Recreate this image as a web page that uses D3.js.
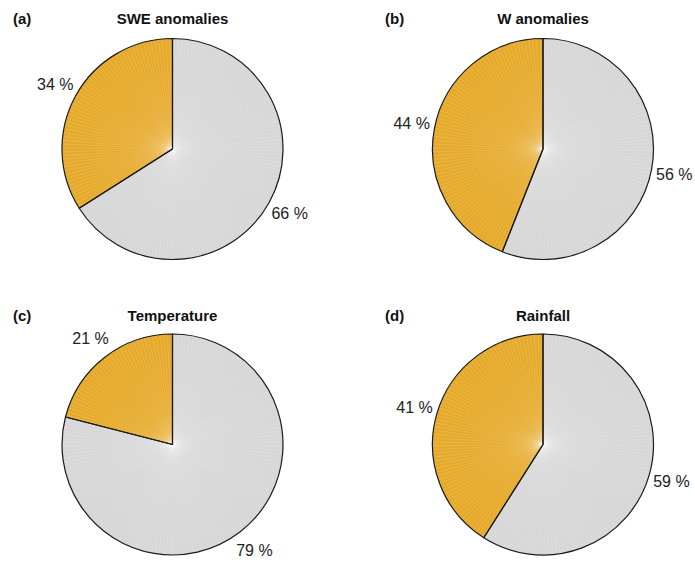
<!DOCTYPE html>
<html>
<head>
<meta charset="utf-8">
<script src="https://cdn.jsdelivr.net/npm/d3@7/dist/d3.min.js"></script>
<style>
  html, body { margin: 0; padding: 0; background: #fff; }
  svg { display: block; }
</style>
</head>
<body>
<svg id="chart" width="695" height="562"></svg>
<script>
// Share of events (%) explained by each driver
const panelTags = ["(a)", "(b)", "(c)", "(d)"];
const panelTitles = ["SWE anomalies", "W anomalies", "Temperature", "Rainfall"];
const otherShare = [66, 56, 79, 59];   // grey slice, clockwise from 12 o'clock
const driverShare = [34, 44, 21, 41];  // orange slice, closes back at 12 o'clock

const sliceColors = ["#d7d7d7", "#e6aa2b"];

const svg = d3.select("#chart");
const radius = 110.5;
const centers = [[172.5, 149], [543, 149], [172.5, 444.5], [543, 444.5]];
const titleY = [24, 24, 321, 321];
const tagX = [13, 385, 13, 385];

const pie = d3.pie().sort(null).value(d => d).startAngle(0).endAngle(2 * Math.PI);
const arc = d3.arc().innerRadius(0).outerRadius(radius);
const labelArc = d3.arc().innerRadius(radius * 1.21).outerRadius(radius * 1.21);

panelTitles.forEach((title, i) => {
  const [cx, cy] = centers[i];
  const g = svg.append("g").attr("transform", `translate(${cx},${cy})`);
  const slices = pie([otherShare[i], driverShare[i]]);

  // filled slices
  g.selectAll("path.slice")
    .data(slices)
    .join("path")
    .attr("class", "slice")
    .attr("d", arc)
    .attr("fill", (d, j) => sliceColors[j]);

  // fine radial shading lines inside each slice
  slices.forEach(s => {
    const step = Math.PI / 90;
    const angles = d3.range(s.startAngle + step / 2, s.endAngle, step);
    g.append("g")
      .selectAll("line")
      .data(angles)
      .join("line")
      .attr("x1", 0).attr("y1", 0)
      .attr("x2", a => radius * Math.sin(a))
      .attr("y2", a => -radius * Math.cos(a))
      .attr("stroke", "#ffffff")
      .attr("stroke-opacity", 0.25)
      .attr("stroke-width", 0.6);
  });

  // outlines
  g.selectAll("path.edge")
    .data(slices)
    .join("path")
    .attr("class", "edge")
    .attr("d", arc)
    .attr("fill", "none")
    .attr("stroke", "#1a1a1a")
    .attr("stroke-width", 1.2)
    .attr("stroke-linejoin", "round");

  // percentage labels
  g.selectAll("text.pct")
    .data(slices)
    .join("text")
    .attr("class", "pct")
    .attr("transform", d => `translate(${labelArc.centroid(d)})`)
    .attr("text-anchor", "middle")
    .attr("dominant-baseline", "central")
    .attr("font-family", "Liberation Sans, Arial, sans-serif")
    .attr("font-size", 16)
    .attr("fill", "#222")
    .text(d => `${d.data} %`);

  // title and panel tag
  svg.append("text")
    .attr("x", cx)
    .attr("y", titleY[i])
    .attr("text-anchor", "middle")
    .attr("font-family", "Liberation Sans, Arial, sans-serif")
    .attr("font-weight", "bold")
    .attr("font-size", 15)
    .attr("fill", "#111")
    .text(title);

  svg.append("text")
    .attr("x", tagX[i])
    .attr("y", titleY[i])
    .attr("font-family", "Liberation Sans, Arial, sans-serif")
    .attr("font-weight", "bold")
    .attr("font-size", 15)
    .attr("fill", "#111")
    .text(panelTags[i]);
});
</script>
</body>
</html>
